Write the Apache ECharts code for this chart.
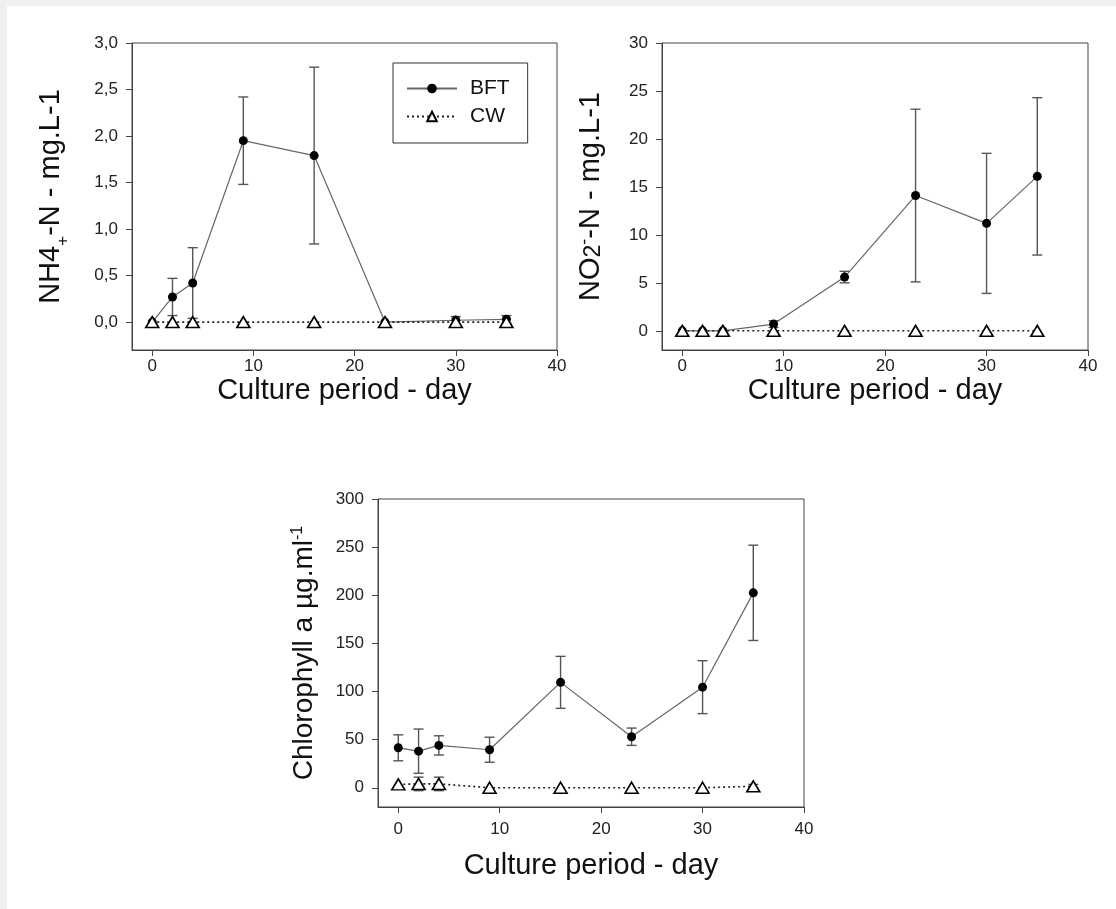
<!DOCTYPE html>
<html><head><meta charset="utf-8">
<script src="https://cdn.jsdelivr.net/npm/echarts@6/dist/echarts.min.js"></script>
<style>
html,body{margin:0;padding:0;background:#efefef;}
#bg{position:absolute;left:7px;top:6px;width:1109px;height:903px;background:#fff;}
#c{position:absolute;left:0;top:0;width:1116px;height:909px;}
</style></head><body>
<div id="bg"></div><div id="c"></div>
<script>
// ---- data ----
const days = [0, 2, 4, 9, 16, 23, 30, 35];
const xTicks = [0, 10, 20, 30, 40];
const nh4Ticks = [0, 0.5, 1, 1.5, 2, 2.5, 3];
const no2Ticks = [0, 5, 10, 15, 20, 25, 30];
const chlTicks = [0, 50, 100, 150, 200, 250, 300];

const nh4BFT   = [0, 0.27, 0.42, 1.95, 1.79, 0.0, 0.02, 0.03];
const nh4BFTsd = [0, 0.20, 0.38, 0.47, 0.95, 0, 0.04, 0.04];
const nh4CW    = [0, 0, 0, 0, 0, 0, 0, 0];
const nh4CWsd  = [0, 0, 0, 0, 0, 0, 0, 0];

const no2BFT   = [0, 0, 0, 0.7, 5.6, 14.1, 11.2, 16.1];
const no2BFTsd = [0, 0, 0, 0.35, 0.6, 9.0, 7.3, 8.2];
const no2CW    = [0, 0, 0, 0, 0, 0, 0, 0];
const no2CWsd  = [0, 0, 0, 0, 0, 0, 0, 0];

const chlBFT   = [41.5, 38, 44, 39.5, 109.5, 53, 104.5, 202.5];
const chlBFTsd = [13.5, 23, 10, 13, 27, 9, 27.5, 49.5];
const chlCW    = [3.5, 4, 4, 0, 0, 0, 0, 1.5];
const chlCWsd  = [0, 7, 7, 0, 0, 0, 0, 2];

// ---- helpers ----
const FONT = 'Liberation Sans, Arial, sans-serif';
const pts = (ys) => days.map((d, i) => [d, ys[i]]);
const errPts = (ys, sd) => days.map((d, i) => [d, ys[i] - sd[i], ys[i] + sd[i]]).filter((p, i) => sd[i] > 0);

function errItem(params, api) {
  const x = api.value(0), lo = api.value(1), hi = api.value(2);
  const a = api.coord([x, hi]), b = api.coord([x, lo]);
  const w = 5;
  const st = { stroke: '#555', lineWidth: 1.4 };
  return { type: 'group', children: [
    { type: 'line', shape: { x1: a[0], y1: a[1], x2: b[0], y2: b[1] }, style: st },
    { type: 'line', shape: { x1: a[0] - w, y1: a[1], x2: a[0] + w, y2: a[1] }, style: st },
    { type: 'line', shape: { x1: b[0] - w, y1: b[1], x2: b[0] + w, y2: b[1] }, style: st }
  ]};
}

const grids = [
  { left: 132, top: 43, width: 425, height: 307 },
  { left: 662, top: 43, width: 426, height: 307 },
  { left: 378, top: 499, width: 426, height: 308 }
].map(g => Object.assign(g, { show: true, borderColor: '#444', borderWidth: 1, backgroundColor: 'transparent' }));

function xAxis(i, gap, margin) {
  return {
    type: 'value', gridIndex: i, min: -2, max: 40,
    axisLine: { show: true, onZero: false, lineStyle: { color: '#444', width: 1 } },
    axisTick: { show: true, length: 6, customValues: xTicks, lineStyle: { color: '#444' } },
    axisLabel: { customValues: xTicks, fontSize: 17, color: '#222', margin: margin, fontFamily: FONT },
    splitLine: { show: false },
    name: 'Culture period - day', nameLocation: 'middle', nameGap: gap,
    nameTextStyle: { fontSize: 29, color: '#111', fontFamily: FONT }
  };
}

function yAxis(i, min, max, ticks, fmt, name, rich, gap) {
  return {
    type: 'value', gridIndex: i, min: min, max: max,
    axisLine: { show: true, onZero: false, lineStyle: { color: '#444', width: 1 } },
    axisTick: { show: true, length: 6, customValues: ticks, lineStyle: { color: '#444' } },
    axisLabel: { customValues: ticks, fontSize: 17, color: '#222', margin: 14, fontFamily: FONT, formatter: fmt },
    splitLine: { show: false },
    name: name, nameLocation: 'middle', nameGap: gap, nameRotate: 90,
    nameTextStyle: { fontSize: 29, color: '#111', fontFamily: FONT, rich: rich }
  };
}

const tok = (size, padTop) => ({ fontSize: size, verticalAlign: 'top', padding: [padTop, 0, 0, 0], color: '#111', fontFamily: FONT });

function bftSeries(i, ys) {
  return { name: 'BFT', type: 'line', xAxisIndex: i, yAxisIndex: i, data: pts(ys), z: 3,
    symbol: 'circle', symbolSize: 9, showSymbol: true,
    itemStyle: { color: '#000' }, lineStyle: { color: '#666', width: 1.2 } };
}
function cwSeries(i, ys) {
  return { name: 'CW', type: 'line', xAxisIndex: i, yAxisIndex: i, data: pts(ys), z: 4,
    symbol: 'triangle', symbolSize: [13, 11], showSymbol: true,
    itemStyle: { color: '#fff', borderColor: '#000', borderWidth: 1.6 },
    lineStyle: { color: '#222', width: 1.6, type: [2, 3] } };
}
function errSeries(i, ys, sd, nm) {
  return { name: nm, type: 'custom', xAxisIndex: i, yAxisIndex: i, z: 2,
    renderItem: errItem, encode: { x: 0, y: [1, 2] }, data: errPts(ys, sd), silent: true };
}

const chart = echarts.init(document.getElementById('c'), null, { renderer: 'canvas' });
chart.setOption({
  animation: false,
  backgroundColor: 'transparent',
  textStyle: { fontFamily: FONT },
  grid: grids,
  legend: {
    data: ['BFT', 'CW'], orient: 'vertical', left: 393, top: 63,
    borderColor: '#333', borderWidth: 1, padding: [15, 18, 16, 13],
    itemWidth: 50, itemHeight: 12, itemGap: 7,
    textStyle: { fontSize: 21, color: '#111', fontFamily: FONT, padding: [0, 0, 0, 8] }, selectedMode: false
  },
  xAxis: [xAxis(0, 26, 8), xAxis(1, 26, 8), xAxis(2, 44, 14)],
  yAxis: [
    yAxis(0, -0.3, 3, nh4Ticks, v => v.toFixed(1).replace('.', ','),
      '{a|NH4}{s|+}{a|-N - mg.L-1}',
      { a: tok(29, 0), s: tok(17, 19) }, 60),
    yAxis(1, -2, 30, no2Ticks, v => String(v),
      '{a|NO}{n|2}{p|-}{a|-N - mg.L-1}',
      { a: tok(29, 0), n: tok(23, 6), p: tok(18, 0) }, 57),
    yAxis(2, -20, 300, chlTicks, v => String(v),
      '{a|Chlorophyll a µg.ml}{p|-1}',
      { a: tok(28, 0), p: tok(16, 0) }, 60)
  ],
  series: [
    errSeries(0, nh4BFT, nh4BFTsd, 'e1'), errSeries(0, nh4CW, nh4CWsd, 'e2'),
    bftSeries(0, nh4BFT), cwSeries(0, nh4CW),
    errSeries(1, no2BFT, no2BFTsd, 'e3'), errSeries(1, no2CW, no2CWsd, 'e4'),
    bftSeries(1, no2BFT), cwSeries(1, no2CW),
    errSeries(2, chlBFT, chlBFTsd, 'e5'), errSeries(2, chlCW, chlCWsd, 'e6'),
    bftSeries(2, chlBFT), cwSeries(2, chlCW)
  ]
});
</script>
</body></html>
